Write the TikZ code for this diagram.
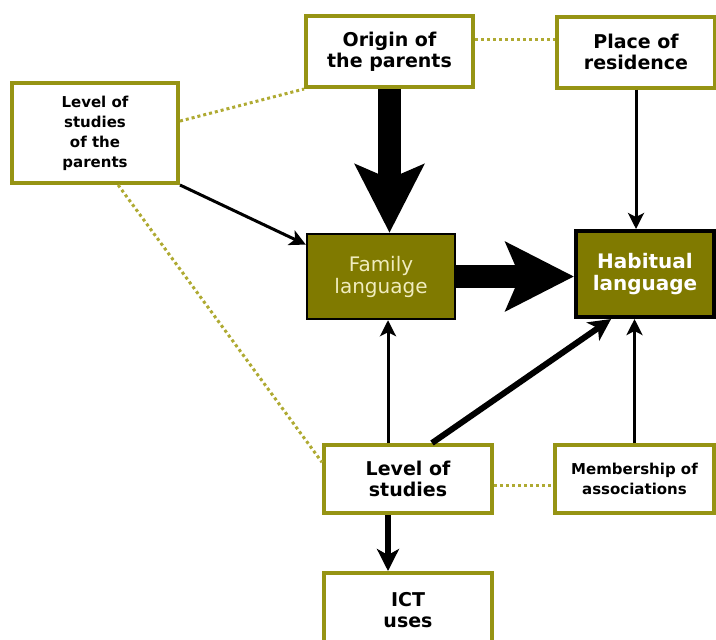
\documentclass[tikz,border=0pt]{standalone}
\usepackage{fontspec}
\setmainfont{DejaVu Sans}
\usetikzlibrary{arrows.meta}
\definecolor{Olive}{RGB}{128,122,0}
\definecolor{OliveLine}{RGB}{150,148,20}
\definecolor{OliveDot}{RGB}{175,170,50}
\definecolor{Cream}{RGB}{240,236,190}
\tikzset{
  factor/.style={draw=OliveLine, fill=white, line width=2pt, inner sep=0pt,
    align=center, font=\fontsize{9.5}{10.5}\selectfont\bfseries},
  smallfactor/.style={factor, font=\fontsize{7.5}{10}\selectfont\bfseries},
  langbox/.style={draw=black, fill=Olive, line width=1.2pt, inner sep=0pt,
    align=center, text=Cream, font=\fontsize{10}{11}\selectfont},
  habitbox/.style={langbox, line width=2pt, text=white,
    font=\fontsize{10}{11}\selectfont\bfseries},
  arrow/.style={-{Stealth[length=8pt,width=8pt,inset=2pt]}, line width=1.5pt},
  thickarrow/.style={-{Stealth[length=11pt,width=11pt,inset=3pt]}, line width=3pt},
  hugearrow/.style={-{Stealth[length=34pt,width=34pt,inset=7pt]}, line width=11.5pt},
  link/.style={OliveDot, line width=1.5pt, dash pattern=on 1.5pt off 1.5pt}
}
\begin{document}
\begin{tikzpicture}[x=0.5pt, y=-0.5pt]
  \useasboundingbox (0,0) rectangle (716,639);
  % factors
  \node[factor, minimum width=83.5pt, minimum height=35.5pt] (origin) at (389.5,51.5) {Origin of\\the parents};
  \node[factor, minimum width=79pt, minimum height=35.5pt] (place) at (636,52) {Place of\\residence};
  \node[smallfactor, minimum width=83pt, minimum height=50pt] (parstud) at (95,133) {Level of\\studies\\of the\\parents};
  \node[langbox, minimum width=74pt, minimum height=42.5pt] (family) at (381,276.5) {Family\\language};
  \node[habitbox, minimum width=69pt, minimum height=43pt] (habit) at (645,274) {Habitual\\language};
  \node[factor, minimum width=84pt, minimum height=34pt] (studies) at (408,479) {Level of\\studies};
  \node[smallfactor, minimum width=79.5pt, minimum height=34pt] (member) at (634.5,479) {Membership of\\associations};
  \node[factor, minimum width=84pt, minimum height=37pt] (ict) at (408,610) {ICT\\uses};
  % dotted links
  \draw[link] (parstud.8) -- (origin.south west);
  \draw[link] ([yshift=6pt]origin.east) -- ([yshift=6pt]origin.east -| place.west);
  \draw[link] (parstud.294) -- (studies.169);
  \draw[link] ([yshift=-3pt]studies.east) -- ([yshift=-3pt]member.west);
  % influences
  \draw[hugearrow] (origin.south) -- (origin.south |- family.north);
  \draw[hugearrow] (family.east) -- (family.east -| habit.west);
  \draw[arrow] (place.south) -- (place.south |- habit.north);
  \draw[arrow] (parstud.south east) -- (family.157);
  \draw[arrow] ([xshift=-10pt]studies.north) -- ([xshift=-10pt]studies.north |- family.south);
  \draw[thickarrow] ([xshift=12pt]studies.north) -- (habit.233);
  \draw[arrow] (member.north) -- (member.north |- habit.south);
  \draw[thickarrow] ([xshift=-10pt]studies.south) -- ([xshift=-10pt]studies.south |- ict.north);
\end{tikzpicture}
\end{document}
